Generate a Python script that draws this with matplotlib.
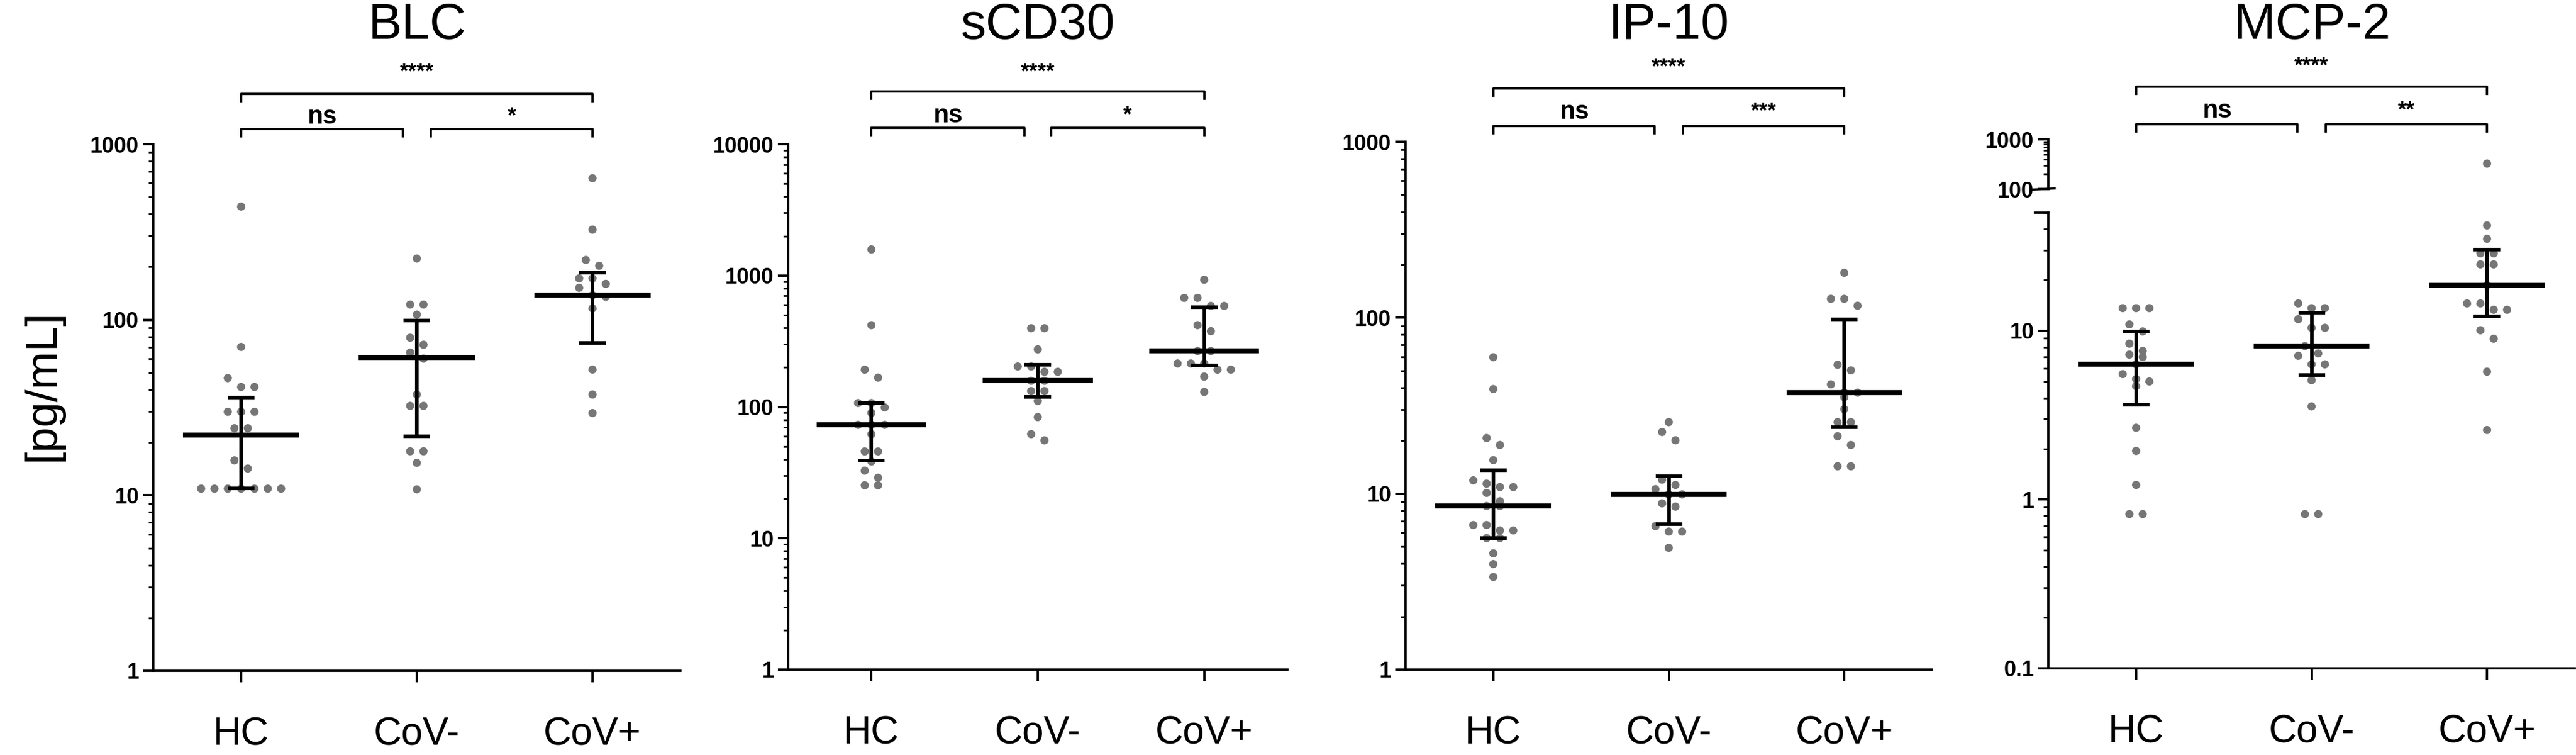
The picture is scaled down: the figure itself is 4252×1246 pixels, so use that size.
import numpy as np
import matplotlib
matplotlib.use('Agg')
import matplotlib.pyplot as plt
import matplotlib.transforms as mtransforms
from matplotlib.ticker import LogLocator, FixedLocator, NullFormatter

plt.rcParams['font.family'] = ['Liberation Sans', 'DejaVu Sans']

groups = ['HC', 'CoV-', 'CoV+']
titles = ['BLC', 'sCD30', 'IP-10', 'MCP-2']
ylabel = '[pg/mL]'

# values (pg/mL)
blc_hc = [441, 70, 46.5, 41.4, 41.4, 29.9, 29.9, 29.9, 24.1, 24.1, 15.8, 14.2,
          10.9, 10.9, 10.9, 10.9, 10.9, 10.9, 10.9]
blc_neg = [223, 122, 122, 107, 79, 72, 65, 60, 37.5, 32.3, 32.3, 17.8, 17.8, 15.3, 10.8]
blc_pos = [640, 326, 219, 203, 172, 172, 160, 152, 138, 135, 116, 52, 37.5, 29.4]

scd30_hc = [1580, 419, 192, 167, 107, 107, 99, 90, 73, 73, 73, 62, 45.8, 45.8,
            38.4, 32.7, 28.9, 25.3, 25.3]
scd30_neg = [397, 397, 274, 203, 203, 185, 185, 158, 158, 132, 132, 111, 83.6, 62, 55.6]
scd30_pos = [929, 676, 676, 587, 587, 419, 377, 266, 266, 214, 214, 214, 192, 192, 170, 130]

ip10_hc = [59.6, 39.3, 20.7, 18.9, 15.5, 11.9, 11.4, 10.9, 10.9, 10.1, 9.06, 8.5, 8.5,
           6.63, 6.63, 6.18, 6.18, 5.59, 5.59, 4.58, 3.98, 3.36]
ip10_neg = [25.5, 22.4, 20.1, 12.0, 11.2, 10.6, 9.9, 9.9, 8.8, 8.44, 6.53, 6.09, 6.09, 4.92]
ip10_pos = [180, 128, 128, 117, 54, 50.2, 41.8, 37.5, 37.5, 35.3, 30.2, 25.5, 25.5,
            21.2, 18.9, 14.3, 14.3]

mcp2_hc = [13.6, 13.6, 13.6, 10.9, 9.9, 8.38, 7.59, 7.22, 6.98, 6.32, 5.53, 5.17, 5.0,
           4.69, 2.66, 1.94, 1.22, 0.82, 0.82]
mcp2_neg = [14.5, 13.6, 13.6, 11.7, 10.4, 10.4, 8.1, 7.33, 7.1, 6.32, 6.32, 5.09, 3.56,
            0.82, 0.82]
mcp2_pos = [325, 42, 35, 28.7, 28.7, 24.7, 24.7, 18.6, 14.5, 14.5, 13.3, 13.3, 10.06,
            8.96, 5.72, 2.58]

# median, 25th, 75th percentile per group
blc_stats = [(22, 10.9, 36), (60.7, 21.7, 99), (138, 74, 185)]
scd30_stats = [(73, 39, 107), (158, 119, 210), (266, 207, 574)]
ip10_stats = [(8.5, 5.6, 13.6), (9.9, 6.7, 12.6), (37.5, 23.9, 97.8)]
mcp2_stats = [(6.32, 3.65, 9.9), (8.1, 5.48, 12.8), (18.6, 12.2, 30.1)]

blc_sig = ['****', 'ns', '*']
scd30_sig = ['****', 'ns', '*']
ip10_sig = ['****', 'ns', '***']
mcp2_sig = ['****', 'ns', '**']

W, H = 4252, 1246
fig = plt.figure(figsize=(W / 100, H / 100), dpi=100)

dot_color = '#767676'


def rect(x0, x1, y0, y1):
    return [x0 / W, 1 - y1 / H, (x1 - x0) / W, (y1 - y0) / H]


def style_axis(ax, ylim, ticks, labels, show_x=True):
    ax.set_yscale('log')
    ax.set_ylim(*ylim)
    ax.set_xlim(-0.5, 2.5)
    for s in ['top', 'right']:
        ax.spines[s].set_visible(False)
    for s in ['left', 'bottom']:
        ax.spines[s].set_linewidth(2.7)
    ax.yaxis.set_major_locator(FixedLocator(ticks))
    ax.set_yticklabels(labels)
    ax.yaxis.set_minor_locator(LogLocator(base=10, subs=np.arange(2, 10)))
    ax.yaxis.set_minor_formatter(NullFormatter())
    ax.tick_params(axis='y', which='major', direction='out', length=12, width=2.7,
                   labelsize=26, pad=5)
    ax.tick_params(axis='y', which='minor', direction='out', length=6, width=2)
    for lab in ax.get_yticklabels():
        lab.set_fontweight('bold')
    if show_x:
        ax.set_xticks([0, 1, 2])
        ax.set_xticklabels(groups)
        ax.tick_params(axis='x', direction='out', length=14, width=2.7,
                       labelsize=46, pad=40)
    else:
        ax.set_xticks([])
        ax.spines['bottom'].set_visible(False)


def swarm(ax, xc, vals, row_px=15, step_px=22):
    tr = ax.transData
    ys = np.array([tr.transform((xc, v))[1] for v in vals])
    order = np.argsort(-ys)
    rows = []
    for i in order:
        if rows and abs(ys[rows[-1][0]] - ys[i]) < row_px:
            rows[-1].append(i)
        else:
            rows.append([i])
    ppu = tr.transform((1, 1))[0] - tr.transform((0, 1))[0]
    xs = np.zeros(len(vals))
    for row in rows:
        n = len(row)
        for k, i in enumerate(row):
            xs[i] = xc + (k - (n - 1) / 2) * step_px / ppu
    return xs


def draw_groups(ax, data, stats):
    for i, vals in enumerate(data):
        if len(vals) == 0:
            continue
        xs = swarm(ax, i, vals)
        ax.scatter(xs, vals, s=95, color=dot_color, edgecolors='none', zorder=2,
                   clip_on=False)
    for i, st in enumerate(stats):
        if st is None:
            continue
        med, q1, q3 = st
        ax.hlines(med, i - 0.33, i + 0.33, color='black', lw=6, zorder=3)
        ax.errorbar([i], [med], yerr=[[med - q1], [q3 - med]], fmt='none',
                    ecolor='black', elinewidth=4.2, capsize=16, capthick=4.2, zorder=3)


def brackets(ax, sig, top_px, low_px, top_txt_px, low_txt_px):
    tr = mtransforms.blended_transform_factory(ax.transData, fig.transFigure)
    fy = lambda p: 1 - p / H
    drop = 12
    segs = [(0, 2, top_px), (0, 1 - 0.08, low_px), (1 + 0.08, 2, low_px)]
    for x1, x2, yp in segs:
        ax.plot([x1, x1, x2, x2], [fy(yp + drop), fy(yp), fy(yp), fy(yp + drop)],
                color='black', lw=2.7, transform=tr, clip_on=False)
    ax.text(1, fy(top_txt_px), sig[0], transform=tr, ha='center', va='center',
            fontsize=26, fontweight='bold')
    ax.text((0 + 0.92) / 2, fy(low_txt_px), sig[1], transform=tr, ha='center',
            va='center', fontsize=30, fontweight='bold')
    ax.text((1.08 + 2) / 2, fy(low_txt_px), sig[2], transform=tr, ha='center',
            va='center', fontsize=26, fontweight='bold')


# panel 1: BLC
ax1 = fig.add_axes(rect(253, 1123, 238, 1107))
style_axis(ax1, (1, 1000), [1, 10, 100, 1000], ['1', '10', '100', '1000'])
draw_groups(ax1, [blc_hc, blc_neg, blc_pos], blc_stats)
brackets(ax1, blc_sig, 155, 213, 120, 193)

# panel 2: sCD30
ax2 = fig.add_axes(rect(1301, 2125, 238, 1105))
style_axis(ax2, (1, 10000), [1, 10, 100, 1000, 10000], ['1', '10', '100', '1000', '10000'])
draw_groups(ax2, [scd30_hc, scd30_neg, scd30_pos], scd30_stats)
brackets(ax2, scd30_sig, 151, 211, 120, 191)

# panel 3: IP-10
ax3 = fig.add_axes(rect(2320, 3189, 234, 1105))
style_axis(ax3, (1, 1000), [1, 10, 100, 1000], ['1', '10', '100', '1000'])
draw_groups(ax3, [ip10_hc, ip10_neg, ip10_pos], ip10_stats)
brackets(ax3, ip10_sig, 146, 208, 112, 185)

# panel 4: MCP-2 with broken y axis
ax4 = fig.add_axes(rect(3381, 4250, 351, 1103))
style_axis(ax4, (0.1, 50), [0.1, 1, 10], ['0.1', '1', '10'])
ax4u = fig.add_axes(rect(3381, 4250, 230, 312))
style_axis(ax4u, (100, 1000), [100, 1000], ['100', '1000'], show_x=False)
ax4u.patch.set_alpha(0)
lo = [[v for v in g if v <= 50] for g in (mcp2_hc, mcp2_neg, mcp2_pos)]
hi = [[v for v in g if v > 50] for g in (mcp2_hc, mcp2_neg, mcp2_pos)]
draw_groups(ax4, lo, mcp2_stats)
draw_groups(ax4u, hi, [None, None, None])
# break marks
trb = mtransforms.blended_transform_factory(ax4.transAxes, fig.transFigure)
ax4.plot([-0.025, 0.0], [1 - 351 / H, 1 - 351 / H], color='black', lw=2.7,
         transform=trb, clip_on=False)
ax4.plot([-0.03, 0.012], [1 - 313 / H, 1 - 311 / H], color='black', lw=2.7,
         transform=trb, clip_on=False)
brackets(ax4, mcp2_sig, 143, 205, 110, 183)

axes = [ax1, ax2, ax3, ax4]
for ax, t in zip(axes, titles):
    pos = ax.get_position()
    fig.text(pos.x0 + pos.width / 2, 1 - 42 / H, t, ha='center', va='center', fontsize=60)

fig.text(70 / W, 1 - 636 / H, ylabel, rotation=90, ha='center', va='center', fontsize=54)

fig.savefig('out.png', dpi=100)
